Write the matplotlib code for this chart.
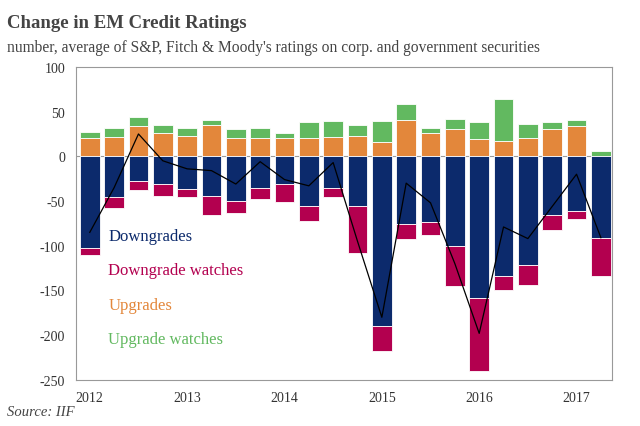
import matplotlib
matplotlib.use("Agg")
import matplotlib.pyplot as plt
import numpy as np

plt.rcParams["axes.unicode_minus"] = False

# quarterly, 2012 Q1 .. 2017 Q2
years = ["2012", "2013", "2014", "2015", "2016", "2017"]
upgrades = [21, 22, 34, 26, 23, 35, 21, 21, 20, 21, 22, 23, 16, 41, 26, 31, 19, 17, 20, 30, 34, 0]
upgrade_watches = [6, 10, 10, 9, 9, 6, 9, 11, 6, 17, 17, 12, 23, 18, 6, 11, 19, 47, 16, 8, 7, 6]
downgrades = [-103, -46, -28, -31, -37, -44, -50, -35, -31, -55, -35, -56, -190, -76, -73, -100,
              -158, -134, -121, -66, -61, -91]
downgrade_watches = [-7, -12, -10, -13, -8, -22, -13, -13, -20, -17, -10, -52, -28, -16, -15, -45,
                     -82, -15, -23, -16, -9, -43]
net = [-85, -35, 25, -5, -14, -16, -31, -6, -26, -33, -7, -95, -180, -30, -52, -120, -198, -79,
       -92, -56, -20, -91]

NAVY, MAGENTA, ORANGE, GREEN = "#0c2a6c", "#b3004f", "#e3873b", "#62b960"
SERIF = ["Liberation Serif", "DejaVu Serif"]

x = np.arange(len(upgrades))
fig = plt.figure(figsize=(6.4, 4.27), dpi=100)
ax = fig.add_axes([0.119, 0.108, 0.837, 0.733])

kw = dict(width=0.8, edgecolor="white", linewidth=0.6, zorder=2)
ax.bar(x, upgrades, color=ORANGE, **kw)
ax.bar(x, upgrade_watches, bottom=upgrades, color=GREEN, **kw)
ax.bar(x, downgrades, color=NAVY, **kw)
ax.bar(x, downgrade_watches, bottom=downgrades, color=MAGENTA, **kw)
ax.axhline(0, color="#999999", lw=0.8, zorder=1)
ax.plot(x, net, color="black", lw=0.9, zorder=3)

ax.set_xlim(-0.56, 21.45)
ax.set_ylim(-250, 100)
ax.set_yticks(range(-250, 101, 50))
ax.set_xticks(x[::4])
ax.set_xticklabels(years)
ax.tick_params(length=0, labelsize=10, colors="#333333", pad=8)
for lab in ax.get_xticklabels() + ax.get_yticklabels():
    lab.set_family(SERIF)
for s in ax.spines.values():
    s.set_color("#999999")
    s.set_linewidth(0.8)

legend = [("Downgrades", NAVY), ("Downgrade watches", MAGENTA),
          ("Upgrades", ORANGE), ("Upgrade watches", GREEN)]
for i, (name, c) in enumerate(legend):
    ax.text(0.06, 0.46 - i * 0.11, name, color=c, fontsize=12, family=SERIF,
            transform=ax.transAxes, va="center")

fig.text(0.011, 0.945, "Change in EM Credit Ratings", fontsize=13.5, fontweight="bold",
         family=SERIF, color="#444444", va="center")
fig.text(0.011, 0.888, "number, average of S&P, Fitch & Moody's ratings on corp. and government securities",
         fontsize=11.2, family=SERIF, color="#444444", va="center")
fig.text(0.011, 0.035, "Source: IIF", fontsize=10.5, style="italic", family=SERIF,
         color="#444444", va="center")

fig.savefig("out.png", dpi=100)
